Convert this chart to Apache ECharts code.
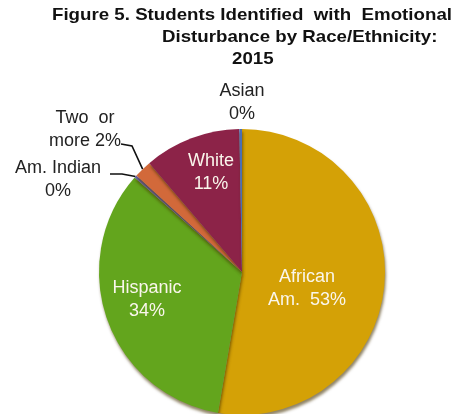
<!DOCTYPE html>
<html>
<head>
<meta charset="utf-8">
<script src="https://cdn.jsdelivr.net/npm/echarts@6/dist/echarts.min.js"></script>
<style>
html,body{margin:0;padding:0;background:#fff;}
#chart{width:455px;height:414px;}
</style>
</head>
<body>
<div id="chart"></div>
<script>
const titleLines = ['Figure 5. Students Identified  with  Emotional', 'Disturbance by Race/Ethnicity:', '2015'];
const categories = ['African Am.', 'Hispanic', 'Am. Indian', 'Two or more', 'White', 'Asian'];
const values = [53, 34, 0.3, 2, 11, 0.3];
const pctLabels = ['53%', '34%', '0%', '2%', '11%', '0%'];
const labelNames = ['African\nAm.  ', 'Hispanic\n', 'Am. Indian\n', 'Two  or\nmore ', 'White\n', 'Asian\n'];
const colors = ['#D4A106', '#63A51D', '#6A64A8', '#D2693A', '#8C2348', '#4A6FB5'];

const FONT = "'Liberation Sans', Arial, sans-serif";
const chart = echarts.init(document.getElementById('chart'), null, {renderer: 'canvas'});

// label placement (annotation positions)
const labelPos = [
  {x: 307, y: 289, color: '#FAF6EC'},
  {x: 147, y: 300, color: '#FAF6EC'},
  {x: 58, y: 180, color: '#222', elbow: [122, 174], end: [110, 174]},
  {x: 85, y: 130, color: '#222', elbow: [132, 146], end: [121, 144]},
  {x: 211, y: 173, color: '#FAF6EC'},
  {x: 242, y: 103, color: '#222'}
];

const outside = [false, false, true, true, false, true];

const data = categories.map((c, i) => ({
  name: c,
  value: values[i],
  itemStyle: {color: colors[i]},
  label: {
    show: true,
    position: outside[i] ? 'outside' : 'inside',
    formatter: labelNames[i] + pctLabels[i],
    color: labelPos[i].color,
    fontSize: 18,
    fontFamily: FONT,
    lineHeight: 23,
    align: 'center'
  },
  labelLine: {
    show: !!labelPos[i].elbow,
    lineStyle: {color: '#111', width: 1.6}
  }
}));

const titleGraphics = [
  {x: 52, y: 15, text: titleLines[0]},
  {x: 162, y: 37, text: titleLines[1]},
  {x: 232, y: 59, text: titleLines[2]}
].map(t => ({
  type: 'text',
  x: t.x,
  y: t.y,
  scaleX: 1.1,
  style: {
    text: t.text,
    font: "bold 17px " + FONT,
    fill: '#111',
    align: 'left',
    verticalAlign: 'middle'
  }
}));

chart.setOption({
  animation: false,
  backgroundColor: '#fff',
  graphic: titleGraphics,
  series: [{
    type: 'pie',
    center: [242, 272],
    radius: 143,
    startAngle: 90,
    clockwise: true,
    avoidLabelOverlap: false,
    minAngle: 0,
    itemStyle: {
      borderWidth: 0,
      shadowColor: 'rgba(70,50,0,0.6)',
      shadowBlur: 3,
      shadowOffsetX: 1,
      shadowOffsetY: 3
    },
    emphasis: {disabled: true},
    labelLayout: function (params) {
      const p = labelPos[params.dataIndex];
      const res = {x: p.x, y: p.y, align: 'center', verticalAlign: 'middle'};
      if (p.elbow && params.labelLinePoints) {
        const start = params.labelLinePoints[0];
        res.labelLinePoints = [start, p.elbow, p.end];
      }
      return res;
    },
    data: data
  }]
});
</script>
</body>
</html>
